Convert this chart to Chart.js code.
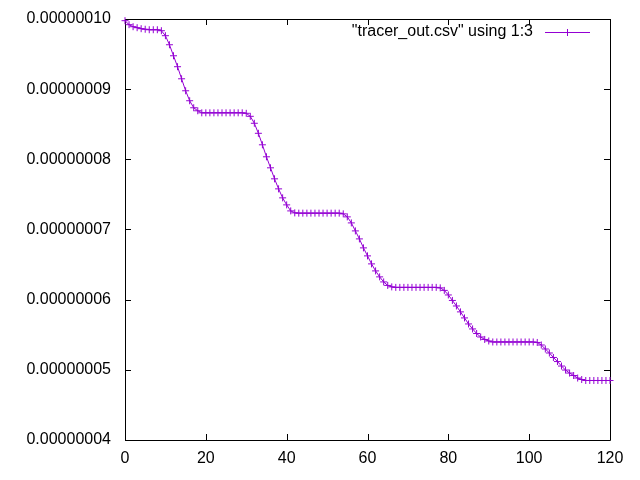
<!DOCTYPE html>
<html>
<head>
<meta charset="utf-8">
<script src="https://cdn.jsdelivr.net/npm/chart.js@4/dist/chart.umd.min.js"></script>
<style>
html,body{margin:0;padding:0;background:#fff;}
#wrap{width:640px;height:480px;}
</style>
</head>
<body>
<div id="wrap"><canvas id="c" width="640" height="480"></canvas></div>
<script>
// Data
const seriesLabel = '"tracer_out.csv" using 1:3';
const xValues = [
  0,1,2,3,4,5,6,7,8,9,10,11,12,13,14,15,16,17,18,19,
  20,21,22,23,24,25,26,27,28,29,30,31,32,33,34,35,36,37,38,39,
  40,41,42,43,44,45,46,47,48,49,50,51,52,53,54,55,56,57,58,59,
  60,61,62,63,64,65,66,67,68,69,70,71,72,73,74,75,76,77,78,79,
  80,81,82,83,84,85,86,87,88,89,90,91,92,93,94,95,96,97,98,99,
  100,101,102,103,104,105,106,107,108,109,110,111,112,113,114,115,116,117,118,119,
  120
];
const yValues = [
  9.976e-8,9.919e-8,9.890e-8,9.876e-8,9.862e-8,9.854e-8,9.847e-8,9.847e-8,9.847e-8,9.833e-8,
  9.762e-8,9.633e-8,9.476e-8,9.320e-8,9.148e-8,8.977e-8,8.835e-8,8.735e-8,8.692e-8,8.663e-8,
  8.663e-8,8.663e-8,8.663e-8,8.663e-8,8.663e-8,8.663e-8,8.663e-8,8.663e-8,8.663e-8,8.663e-8,
  8.656e-8,8.613e-8,8.514e-8,8.371e-8,8.207e-8,8.036e-8,7.879e-8,7.722e-8,7.579e-8,7.451e-8,
  7.351e-8,7.265e-8,7.237e-8,7.233e-8,7.233e-8,7.233e-8,7.233e-8,7.233e-8,7.233e-8,7.233e-8,
  7.233e-8,7.233e-8,7.233e-8,7.233e-8,7.223e-8,7.180e-8,7.094e-8,6.980e-8,6.866e-8,6.738e-8,
  6.624e-8,6.510e-8,6.410e-8,6.325e-8,6.253e-8,6.203e-8,6.182e-8,6.175e-8,6.175e-8,6.175e-8,
  6.175e-8,6.175e-8,6.175e-8,6.175e-8,6.175e-8,6.175e-8,6.175e-8,6.175e-8,6.168e-8,6.132e-8,
  6.067e-8,5.989e-8,5.910e-8,5.826e-8,5.740e-8,5.654e-8,5.583e-8,5.518e-8,5.468e-8,5.433e-8,
  5.411e-8,5.397e-8,5.397e-8,5.397e-8,5.397e-8,5.397e-8,5.397e-8,5.397e-8,5.397e-8,5.397e-8,
  5.397e-8,5.397e-8,5.390e-8,5.354e-8,5.297e-8,5.240e-8,5.176e-8,5.118e-8,5.054e-8,4.997e-8,
  4.954e-8,4.919e-8,4.883e-8,4.862e-8,4.848e-8,4.848e-8,4.848e-8,4.848e-8,4.848e-8,4.848e-8,
  4.848e-8
];
const xTicks = [0,20,40,60,80,100,120];
const yTicks = [4e-8,5e-8,6e-8,7e-8,8e-8,9e-8,1e-7];

const points = xValues.map((x,i)=>({x:x,y:yValues[i]}));
const FONT = '"Liberation Sans", Arial, sans-serif';
const COLOR = '#9400D3';

Chart.defaults.color = '#000';
Chart.defaults.font.family = FONT;
Chart.defaults.font.size = 16;

const framePlugin = {
  id:'frame',
  beforeDatasetsDraw(chart){
    const {ctx, chartArea:a, scales} = chart;
    ctx.save();
    ctx.strokeStyle = '#000';
    ctx.lineWidth = 1;
    ctx.beginPath();
    ctx.rect(Math.round(a.left)+0.5, Math.round(a.top)+0.5, Math.round(a.right-a.left), Math.round(a.bottom-a.top));
    ctx.stroke();
    const L = 6;
    ctx.beginPath();
    xTicks.forEach(v=>{
      const px = Math.round(scales.x.getPixelForValue(v))+0.5;
      ctx.moveTo(px, a.bottom); ctx.lineTo(px, a.bottom-L);
      ctx.moveTo(px, a.top); ctx.lineTo(px, a.top+L);
    });
    yTicks.forEach(v=>{
      const py = Math.round(scales.y.getPixelForValue(v))+0.5;
      ctx.moveTo(a.left, py); ctx.lineTo(a.left+L, py);
      ctx.moveTo(a.right, py); ctx.lineTo(a.right-L, py);
    });
    ctx.stroke();
    ctx.restore();
  },
  afterDraw(chart){
    const {ctx} = chart;
    ctx.save();
    ctx.font = '16px ' + FONT;
    ctx.fillStyle = '#000';
    ctx.textAlign = 'right';
    ctx.textBaseline = 'alphabetic';
    ctx.fillText(chart.data.datasets[0].label, 533, 36);
    ctx.strokeStyle = COLOR;
    ctx.lineWidth = 1;
    ctx.beginPath();
    ctx.moveTo(545, 32.5); ctx.lineTo(590, 32.5);
    ctx.moveTo(567.5, 29); ctx.lineTo(567.5, 36);
    ctx.stroke();
    ctx.restore();
  }
};

new Chart(document.getElementById('c'), {
  type:'line',
  data:{
    datasets:[{
      label: seriesLabel,
      data: points,
      borderColor: COLOR,
      backgroundColor: COLOR,
      borderWidth: 1,
      pointStyle: 'cross',
      pointRadius: 3.5,
      pointBorderWidth: 1,
      pointBorderColor: COLOR,
      tension: 0,
      fill: false,
      clip: false
    }]
  },
  options:{
    responsive:false,
    animation:false,
    events:[],
    layout:{padding:{top:19, right:30, left:0, bottom:0}},
    plugins:{legend:{display:false}, tooltip:{enabled:false}},
    scales:{
      x:{
        type:'linear', min:0, max:120,
        afterBuildTicks(s){ s.ticks = xTicks.map(v=>({value:v})); },
        grid:{display:false, drawTicks:false},
        border:{display:false},
        ticks:{padding:9, maxRotation:0, callback:v=>String(v)},
        afterFit(s){ s.height = 40; }
      },
      y:{
        type:'linear', min:4e-8, max:1e-7,
        afterBuildTicks(s){ s.ticks = yTicks.map(v=>({value:v})); },
        grid:{display:false, drawTicks:false},
        border:{display:false},
        ticks:{padding:14, callback:v=>Number(v).toFixed(8)},
        afterFit(s){ s.width = 125; s.paddingTop = 0; s.paddingBottom = 0; }
      }
    }
  },
  plugins:[framePlugin]
});
</script>
</body>
</html>
